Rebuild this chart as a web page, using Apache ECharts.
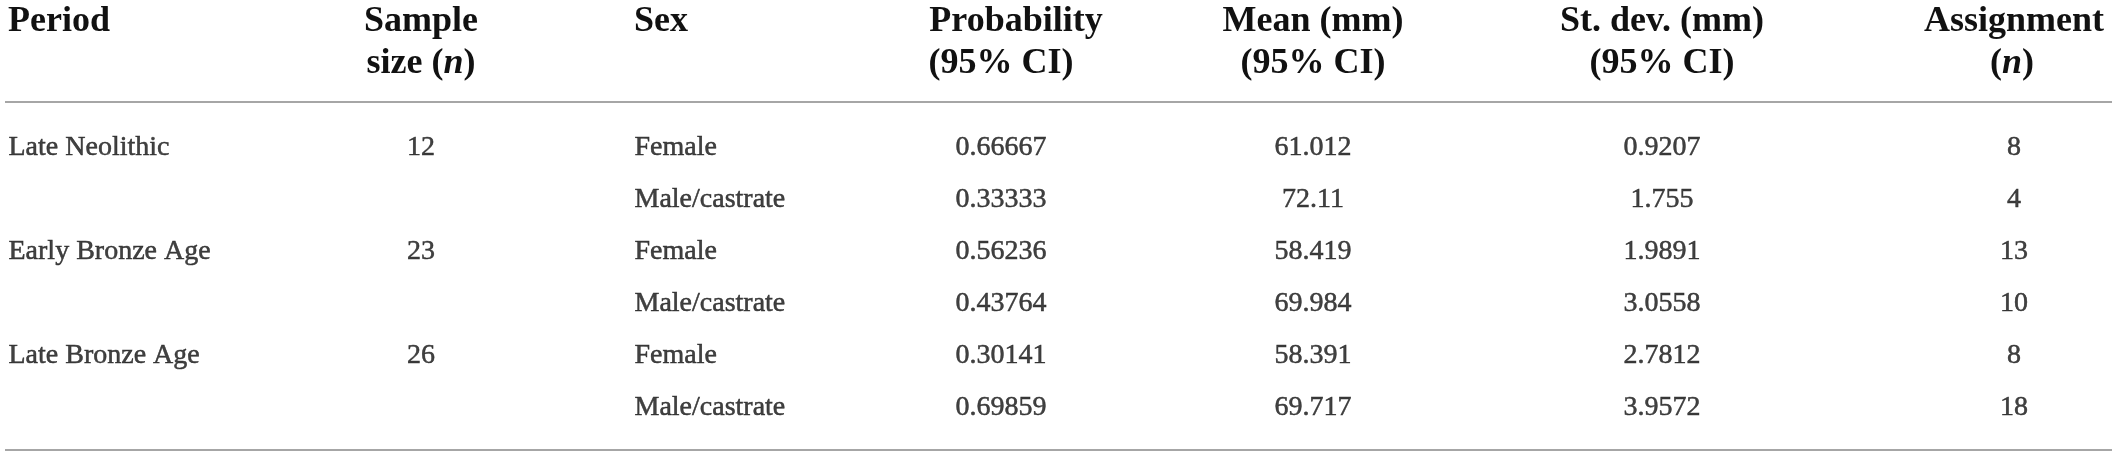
<!DOCTYPE html>
<html>
<head>
<meta charset="utf-8">
<script src="https://cdn.jsdelivr.net/npm/echarts@6/dist/echarts.min.js"></script>
<style>
html,body{margin:0;padding:0;background:#fff;}
#box1{width:2117px;height:455px;}
</style>
</head>
<body>
<div id="box1"></div>
<script>
// table values
var periods = ['Late Neolithic', 'Early Bronze Age', 'Late Bronze Age'];
var sampleSizes = [12, 23, 26];
var sexes = ['Female', 'Male/castrate', 'Female', 'Male/castrate', 'Female', 'Male/castrate'];
var probability = ['0.66667', '0.33333', '0.56236', '0.43764', '0.30141', '0.69859'];
var means = ['61.012', '72.11', '58.419', '69.984', '58.391', '69.717'];
var stdevs = ['0.9207', '1.755', '1.9891', '3.0558', '2.7812', '3.9572'];
var assignments = [8, 4, 13, 10, 8, 18];
// header lines, {n} = italic n
var headers = [
	['Period'],
	['Sample', 'size ({n})'],
	['Sex'],
	['Probability', '(95% CI)'],
	['Mean (mm)', '(95% CI)'],
	['St. dev. (mm)', '(95% CI)'],
	['Assignment', '({n})']
];

// layout: column anchor x, alignment
var colX = [8, 421, 634, 1001, 1313, 1662, 2014];
var colAlign = ['left', 'center', 'left', 'center', 'center', 'center', 'center'];
var headX = [[8], [421, 421], [634], [1016, 1001], [1313, 1313], [1662, 1662], [2014, 2012]];
var FONT = '"Liberation Serif", "Times New Roman", serif';
var INK = '#111';

var index = {
	// 一列 -> 一个scatter系列, rowStep=2 时只画每组第一行
	col: function (c, vals, rowStep) {
		var data = [];
		for (var i = 0; i < vals.length; i++) {
			data.push([colX[c], i * rowStep, String(vals[i])]);
		}
		var left = colAlign[c] == 'left';
		return {
			type: 'scatter',
			silent: true,
			symbolSize: 1,
			itemStyle: { color: 'transparent' },
			data: data,
			label: {
				show: true,
				position: left ? 'right' : 'inside',
				distance: 0,
				align: left ? 'left' : 'center',
				verticalAlign: 'middle',
				fontFamily: FONT,
				fontSize: 28,
				color: INK,
				textBorderColor: INK,
				textBorderWidth: 0.5,
				formatter: function (p) { return p.value[2]; }
			}
		};
	},
	head: function () {
		var g = [];
		var rich = {
			b: { fontFamily: FONT, fontSize: 36, fontWeight: 'bold', fill: INK, color: INK },
			i: { fontFamily: FONT, fontSize: 36, fontWeight: 'bold', fontStyle: 'italic', fill: INK, color: INK }
		};
		for (var c = 0; c < headers.length; c++) {
			for (var l = 0; l < headers[c].length; l++) {
				var t = headers[c][l].replace('{n}', '}{i|n}{b|');
				g.push({
					type: 'text',
					x: headX[c][l],
					y: 22 + l * 42,
					style: {
						text: '{b|' + t + '}',
						rich: rich,
						align: colAlign[c],
						verticalAlign: 'middle'
					}
				});
			}
		}
		// rules
		g.push({ type: 'line', shape: { x1: 5, y1: 102, x2: 2112, y2: 102 }, style: { stroke: '#a6a6a6', lineWidth: 2 } });
		g.push({ type: 'line', shape: { x1: 5, y1: 450, x2: 2112, y2: 450 }, style: { stroke: '#a6a6a6', lineWidth: 2 } });
		return g;
	},
	init: function () {
		var chart = echarts.init(document.getElementById('box1'));
		var option = {
			animation: false,
			grid: { left: 0, right: 0, top: 122, bottom: 21 },
			xAxis: { type: 'value', min: 0, max: 2117, show: false },
			yAxis: { type: 'category', data: [0, 1, 2, 3, 4, 5], inverse: true, show: false },
			graphic: index.head(),
			series: [
				index.col(0, periods, 2),
				index.col(1, sampleSizes, 2),
				index.col(2, sexes, 1),
				index.col(3, probability, 1),
				index.col(4, means, 1),
				index.col(5, stdevs, 1),
				index.col(6, assignments, 1)
			]
		};
		chart.setOption(option);
	}
};

index.init();
</script>
</body>
</html>
